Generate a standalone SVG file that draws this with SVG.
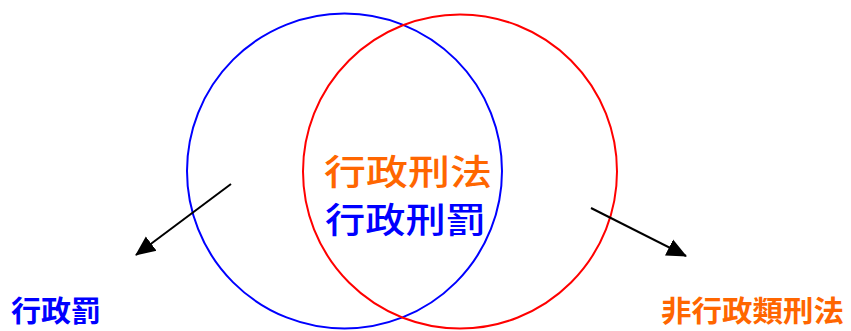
<svg xmlns="http://www.w3.org/2000/svg" width="851" height="331" viewBox="0 0 851 331">
<style>
.c{fill:none;stroke-width:2}
.t{font-family:"Noto Sans CJK TC","Noto Sans CJK SC",sans-serif}
.mid{font-size:35px;font-weight:500}
.lab{font-size:29px;font-weight:700}
.or{fill:#FF6600}
.bl{fill:#0000FF}
.ar{stroke:#000;stroke-width:2;fill:none}
</style>
<defs>
<marker id="ah" viewBox="0 0 20 20" refX="19" refY="10" markerWidth="20" markerHeight="20" markerUnits="userSpaceOnUse" orient="auto">
<path d="M0,1 L20,10 L0,19 z" fill="#000"/>
</marker>
</defs>
<g id="circle-admin-penalty"><circle class="c" cx="344.5" cy="171" r="157.5" stroke="#0000FF"/></g>
<g id="circle-criminal-law"><circle class="c" cx="460" cy="171.5" r="157" stroke="#FF0000"/></g>
<g id="center-text">
<text class="t mid or" x="324" y="185" textLength="168" lengthAdjust="spacingAndGlyphs">行政刑法</text>
<text class="t mid bl" x="325" y="233" textLength="161" lengthAdjust="spacingAndGlyphs">行政刑罰</text>
</g>
<g id="label-admin-penalty"><text class="t lab bl" x="11" y="322" textLength="90" lengthAdjust="spacingAndGlyphs">行政罰</text></g>
<g id="label-non-admin-criminal"><text class="t lab or" x="661" y="322" textLength="183" lengthAdjust="spacingAndGlyphs">非行政類刑法</text></g>
<g id="connectors">
<line class="ar" x1="231" y1="184" x2="136" y2="255" marker-end="url(#ah)"/>
<line class="ar" x1="591" y1="208" x2="686" y2="256" marker-end="url(#ah)"/>
</g>
</svg>
